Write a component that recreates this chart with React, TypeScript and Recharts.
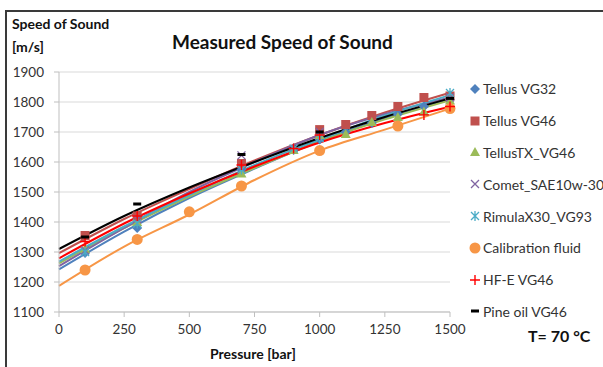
import { CartesianGrid, ComposedChart, Line, Scatter, XAxis, YAxis } from "recharts";

const pressureTicks = [0, 250, 500, 750, 1000, 1250, 1500];
const speedTicks = [1100, 1200, 1300, 1400, 1500, 1600, 1700, 1800, 1900];

// measured points: [pressure bar, speed m/s]
const tellusVG32: [number, number][] = [[100, 1297], [300, 1380], [700, 1575], [900, 1640], [1000, 1675], [1100, 1700], [1200, 1730], [1300, 1760], [1400, 1785], [1500, 1808]];
const tellusVG46: [number, number][] = [[100, 1355], [300, 1420], [700, 1595], [1000, 1708], [1100, 1725], [1200, 1755], [1300, 1785], [1400, 1815], [1500, 1820]];
const tellusTX: [number, number][] = [[100, 1310], [300, 1400], [700, 1562], [900, 1640], [1000, 1690], [1100, 1693], [1200, 1733], [1300, 1750], [1400, 1768], [1500, 1805]];
const comet: [number, number][] = [[100, 1305], [300, 1410], [700, 1622], [1000, 1700], [1500, 1815]];
const rimula: [number, number][] = [[100, 1300], [300, 1395], [700, 1575], [900, 1645], [1000, 1680], [1500, 1830]];
const calibration: [number, number][] = [[100, 1240], [300, 1342], [500, 1434], [700, 1520], [1000, 1638], [1300, 1720], [1500, 1778]];
const hfe: [number, number][] = [[100, 1335], [300, 1420], [700, 1590], [900, 1645], [1000, 1690], [1400, 1757], [1500, 1785]];
const pineOil: [number, number][] = [[100, 1350], [300, 1460], [700, 1625], [1000, 1700], [1500, 1812]];

// trendline readings at trendPressure
const trendPressure = [0, 250, 500, 750, 1000, 1250, 1500];
const tellusVG32Trend = [1242, 1368, 1480, 1578, 1670, 1745, 1810];
const tellusVG46Trend = [1296, 1410, 1510, 1605, 1690, 1765, 1831];
const tellusTXTrend = [1262, 1380, 1485, 1580, 1668, 1742, 1806];
const cometTrend = [1253, 1380, 1500, 1600, 1690, 1760, 1815];
const rimulaTrend = [1268, 1385, 1490, 1590, 1675, 1755, 1823];
const calibrationTrend = [1187, 1318, 1425, 1540, 1638, 1708, 1778];
const hfeTrend = [1279, 1395, 1495, 1585, 1665, 1730, 1784];
const pineOilTrend = [1310, 1420, 1515, 1600, 1680, 1750, 1812];

const series = [
  { name: "Tellus VG32", color: "#4f81bd", kind: "diamond", points: tellusVG32, trend: tellusVG32Trend },
  { name: "Tellus VG46", color: "#c0504d", kind: "square", points: tellusVG46, trend: tellusVG46Trend },
  { name: "TellusTX_VG46", color: "#9bbb59", kind: "triangle", points: tellusTX, trend: tellusTXTrend },
  { name: "Comet_SAE10w-30", color: "#8064a2", kind: "x", points: comet, trend: cometTrend },
  { name: "RimulaX30_VG93", color: "#4bacc6", kind: "star", points: rimula, trend: rimulaTrend },
  { name: "Calibration fluid", color: "#f79646", kind: "circle", points: calibration, trend: calibrationTrend },
  { name: "HF-E VG46", color: "#ff0000", kind: "plus", points: hfe, trend: hfeTrend },
  { name: "Pine oil VG46", color: "#000000", kind: "dash", points: pineOil, trend: pineOilTrend }
];

const font = "Lato, 'Open Sans', sans-serif";

function Marker({ cx, cy, kind, color }: { cx: number; cy: number; kind: string; color: string }) {
  switch (kind) {
    case "diamond":
      return <path d={`M${cx},${cy - 5}L${cx + 5},${cy}L${cx},${cy + 5}L${cx - 5},${cy}Z`} fill={color} />;
    case "square":
      return <rect x={cx - 4.5} y={cy - 4.5} width={9} height={9} fill={color} />;
    case "triangle":
      return <path d={`M${cx},${cy - 5}L${cx + 5},${cy + 4}L${cx - 5},${cy + 4}Z`} fill={color} />;
    case "x":
      return (
        <path d={`M${cx - 4},${cy - 4}L${cx + 4},${cy + 4}M${cx - 4},${cy + 4}L${cx + 4},${cy - 4}`} stroke={color} strokeWidth={1.3} />
      );
    case "star":
      return (
        <path
          d={`M${cx - 4},${cy - 4}L${cx + 4},${cy + 4}M${cx - 4},${cy + 4}L${cx + 4},${cy - 4}M${cx},${cy - 5}L${cx},${cy + 5}`}
          stroke={color}
          strokeWidth={1.3}
        />
      );
    case "circle":
      return <circle cx={cx} cy={cy} r={5.5} fill={color} />;
    case "plus":
      return <path d={`M${cx - 5},${cy}L${cx + 5},${cy}M${cx},${cy - 5}L${cx},${cy + 5}`} stroke={color} strokeWidth={1.4} />;
    default:
      return <rect x={cx - 4} y={cy - 1.5} width={8} height={3} fill={color} />;
  }
}

export default function App() {
  return (
    <div style={{ position: "absolute", left: 0, top: 0, width: 603, height: 367, overflow: "hidden", background: "#fff", fontFamily: font }}>
      <div style={{ position: "absolute", left: 5, top: 10, width: 700, height: 500, border: "2px solid #3a3a3a" }} />
      <ComposedChart width={603} height={367} margin={{ top: 72, right: 153, bottom: 0, left: 0 }}>
        <CartesianGrid vertical={false} stroke="#d9d9d9" />
        <XAxis
          dataKey="x"
          type="number"
          domain={[0, 1500]}
          ticks={pressureTicks}
          allowDuplicatedCategory={false}
          height={55}
          tickSize={5}
          tickMargin={7}
          stroke="#bfbfbf"
          tick={{ fill: "#333", fontSize: 13.5, fontFamily: font }}
        />
        <YAxis
          dataKey="y"
          type="number"
          domain={[1100, 1900]}
          ticks={speedTicks}
          width={59}
          tickSize={5}
          tickMargin={10}
          stroke="#bfbfbf"
          tick={{ fill: "#333", fontSize: 13.5, fontFamily: font }}
        />
        {series.map((s) => (
          <Line
            key={`${s.name}-trend`}
            data={trendPressure.map((p, i) => ({ x: p, y: s.trend[i] }))}
            dataKey="y"
            type="monotone"
            stroke={s.color}
            strokeWidth={2}
            dot={false}
            activeDot={false}
            isAnimationActive={false}
          />
        ))}
        {series.map((s) => (
          <Scatter
            key={s.name}
            name={s.name}
            data={s.points.map(([x, y]) => ({ x, y }))}
            dataKey="y"
            isAnimationActive={false}
            shape={(p: any) => <Marker cx={p.cx} cy={p.cy} kind={s.kind} color={s.color} />}
          />
        ))}
      </ComposedChart>
      <div style={{ position: "absolute", left: 12, top: 12, fontSize: 14, fontWeight: 700, lineHeight: "23px", color: "#111" }}>
        Speed of Sound
        <br />
        [m/s]
      </div>
      <div style={{ position: "absolute", left: 172, top: 30, fontSize: 19, fontWeight: 700, color: "#111" }}>Measured Speed of Sound</div>
      <div style={{ position: "absolute", left: 210, top: 345, fontSize: 14, fontWeight: 700, color: "#111" }}>Pressure [bar]</div>
      <div style={{ position: "absolute", left: 528, top: 326, fontSize: 16, fontWeight: 700, color: "#111" }}>T= 70 °C</div>
      <div style={{ position: "absolute", left: 469, top: 73 }}>
        {series.map((s) => (
          <div key={s.name} style={{ display: "flex", alignItems: "center", height: 31.8, fontSize: 14, color: "#333", whiteSpace: "nowrap" }}>
            <svg width={12} height={12} style={{ marginRight: 2 }}>
              <Marker cx={6} cy={6} kind={s.kind} color={s.color} />
            </svg>
            {s.name}
          </div>
        ))}
      </div>
    </div>
  );
}
